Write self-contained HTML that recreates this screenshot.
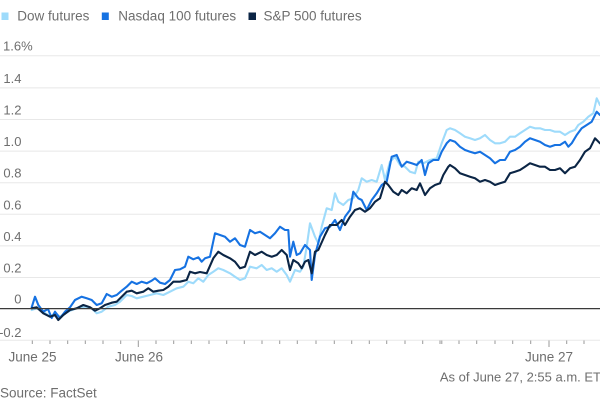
<!DOCTYPE html>
<html>
<head>
<meta charset="utf-8">
<style>
  html,body{margin:0;padding:0;background:#fff;}
  svg{display:block;}
  text{font-family:"Liberation Sans",Arial,sans-serif;fill:#6e6e6e;}
</style>
</head>
<body>
<svg width="600" height="400" viewBox="0 0 600 400" xmlns="http://www.w3.org/2000/svg">
  <!-- legend -->
  <rect x="1.5" y="12.5" width="7" height="7.5" fill="#9edbfb"/>
  <text x="17.3" y="20.5" font-size="13.5">Dow futures</text>
  <rect x="101.8" y="12.5" width="7" height="7.5" fill="#1672e2"/>
  <text x="118.3" y="20.5" font-size="13.5">Nasdaq 100 futures</text>
  <rect x="248.5" y="12.5" width="7.5" height="7.5" fill="#0b2545"/>
  <text x="263.5" y="20.5" font-size="13.5">S&amp;P 500 futures</text>

  <!-- gridlines -->
  <g stroke="#e8e8e8" stroke-width="1">
    <line x1="0" y1="55.7" x2="600" y2="55.7"/>
    <line x1="0" y1="87.9" x2="600" y2="87.9"/>
    <line x1="0" y1="119.5" x2="600" y2="119.5"/>
    <line x1="0" y1="151.1" x2="600" y2="151.1"/>
    <line x1="0" y1="182.7" x2="600" y2="182.7"/>
    <line x1="0" y1="214.3" x2="600" y2="214.3"/>
    <line x1="0" y1="245.9" x2="600" y2="245.9"/>
    <line x1="0" y1="277.5" x2="600" y2="277.5"/>
    <line x1="0" y1="340.2" x2="600" y2="340.2"/>
  </g>

  <!-- y labels -->
  <text x="3" y="50.7" font-size="13">1.6%</text>
  <g font-size="13" text-anchor="end">
    <text x="21.5" y="82.9">1.4</text>
    <text x="21.5" y="114.5">1.2</text>
    <text x="21.5" y="146.1">1.0</text>
    <text x="21.5" y="177.7">0.8</text>
    <text x="21.5" y="209.3">0.6</text>
    <text x="21.5" y="240.9">0.4</text>
    <text x="21.5" y="272.5">0.2</text>
    <text x="21.5" y="303.6">0</text>
    <text x="21.5" y="336.8">-0.2</text>
  </g>

  <!-- x ticks -->
  <g stroke="#9a9a9a" stroke-width="1">
    <line x1="32.3" y1="340.5" x2="32.3" y2="344"/>
    <line x1="50" y1="340.5" x2="50" y2="344"/>
    <line x1="67.7" y1="340.5" x2="67.7" y2="344"/>
    <line x1="85.3" y1="340.5" x2="85.3" y2="344"/>
    <line x1="103" y1="340.5" x2="103" y2="344"/>
    <line x1="120.7" y1="340.5" x2="120.7" y2="344"/>
    <line x1="138.3" y1="340.5" x2="138.3" y2="347"/>
    <line x1="156" y1="340.5" x2="156" y2="344"/>
    <line x1="173.7" y1="340.5" x2="173.7" y2="344"/>
    <line x1="191.3" y1="340.5" x2="191.3" y2="344"/>
    <line x1="209" y1="340.5" x2="209" y2="344"/>
    <line x1="226.7" y1="340.5" x2="226.7" y2="344"/>
    <line x1="244.3" y1="340.5" x2="244.3" y2="344"/>
    <line x1="262" y1="340.5" x2="262" y2="344"/>
    <line x1="279.7" y1="340.5" x2="279.7" y2="344"/>
    <line x1="297.3" y1="340.5" x2="297.3" y2="344"/>
    <line x1="316" y1="340.5" x2="316" y2="344"/>
    <line x1="334.3" y1="340.5" x2="334.3" y2="344"/>
    <line x1="351.7" y1="340.5" x2="351.7" y2="344"/>
    <line x1="369.3" y1="340.5" x2="369.3" y2="344"/>
    <line x1="386.7" y1="340.5" x2="386.7" y2="344"/>
    <line x1="405" y1="340.5" x2="405" y2="344"/>
    <line x1="422.7" y1="340.5" x2="422.7" y2="344"/>
    <line x1="440" y1="340.5" x2="440" y2="344"/>
    <line x1="441.8" y1="340.5" x2="441.8" y2="344"/>
    <line x1="459" y1="340.5" x2="459" y2="344"/>
    <line x1="476.7" y1="340.5" x2="476.7" y2="344"/>
    <line x1="495" y1="340.5" x2="495" y2="344"/>
    <line x1="512.7" y1="340.5" x2="512.7" y2="344"/>
    <line x1="530.7" y1="340.5" x2="530.7" y2="344"/>
    <line x1="549" y1="340.5" x2="549" y2="347"/>
    <line x1="566.7" y1="340.5" x2="566.7" y2="344"/>
    <line x1="584" y1="340.5" x2="584" y2="344"/>
  </g>

  <!-- x labels -->
  <g font-size="13.5" text-anchor="middle">
    <text x="32.5" y="361.5">June 25</text>
    <text x="139" y="361.5">June 26</text>
    <text x="549" y="361.5">June 27</text>
  </g>
  <text x="601" y="381.5" font-size="13" text-anchor="end">As of June 27, 2:55 a.m. ET</text>
  <text x="0" y="397.5" font-size="13.5">Source: FactSet</text>

  <!-- series -->
  <g fill="none" stroke-width="2.1" stroke-linejoin="round" stroke-linecap="round">
    <polyline stroke="#9edbfb" points="31.7,310 36.7,308.3 43.3,311.7 50,316.7 55,313.3 60,316.7 65,313.3 70,310.7 76.7,308.3 85,306.7 91.7,308.3 96.7,313.3 101.7,311.7 108.3,306.7 115,305 120,301.7 126.7,295 131.7,296 136.7,298.3 143.3,296.7 150,295 156.7,293.3 163.3,295 170,291.7 176.7,288.3 183.3,286.7 188.3,281.7 193.3,283.3 198.3,278.3 203.3,281.7 208.3,275 213.3,271.7 218.3,268.3 223.3,270 230,273.3 235,276.7 240,280 245,278.3 250,266.7 256.7,268.3 261.7,265 266.7,270 271.7,268.3 276.7,271.7 281.7,268.3 286.7,275 290,281.7 295,270 300,271.7 303.3,266.7 306.7,246.7 310,223.3 315,236.7 318.3,243.3 321.7,226.7 326.7,208.3 331.7,210 335,193.3 338.3,201.7 343.3,205 348.3,200 353.3,198.3 358.3,190 361.7,178.3 366.7,181.7 371.7,180 376.7,181.7 381.7,165 385,180 390,161.7 395,156.7 400,165 405,166.7 410,171.7 415,173.3 418.3,161.7 423.3,163.3 430,160 436.7,158.3 441.7,143.3 446.7,130 450,128.3 455,130 460,133.3 465,136.7 470,138.3 475,140 480,138.3 485,135 490,140 495,143.3 500,143.3 505,141.7 510,136.7 515,136.7 520,133.3 525,130 530,126.7 535,128.3 540,128.3 545,130 550,130 555,131.7 560,131.7 565,135 570,131.7 575,130 578.3,125 583.3,121.7 588.3,116.7 593.3,113.3 596.7,98.3 600,105"/>
    <polyline stroke="#1672e2" points="31.7,307.3 35,296.7 38.3,305 43.3,311.7 48,309 51.7,318 55,311.7 60,318.3 65,311.7 70,307.3 75,300 81.7,296.7 86.7,298.3 91.7,300 96.7,305 101.7,303.3 106.7,294 111.7,296.7 116.7,295 121.7,290.7 126.7,286.7 131.7,281.7 136.7,284 141.7,281.7 146.7,283.3 151.7,280.7 155,278.3 160,282.7 165,284 170,280 175,270 180,269.3 185,266.7 188.3,256.7 193.3,259.3 198.3,257.3 201.7,261.7 205,258.3 210,256.7 215,233.3 220,235 225,236.7 230,241.7 235,238.3 240,245 245,246.7 250,230 255,233.3 260,231.7 265,235 270,238.3 275,233.3 280,226.7 285,230 288.3,230 290,256.7 293.3,241.7 296.7,255 300,253.3 305,245 310,250 311.7,280 315,255 320,236.7 325,228.3 330,226.7 335,220 340,230 345,216.7 350,210 353.3,191.7 358.3,198.3 361.7,200 366.7,210 371.7,200 376.7,193.3 381.7,185 386.7,181.7 391.7,156.7 396.7,155 401.7,166.7 406.7,161.7 411.7,163.3 416.7,165 421.7,160 425,175 428.3,163.3 433.3,160 438.3,160 441.7,151.7 446.7,143.3 450,140 455,141.7 460,146.7 465,150 470,151.7 475,153.3 480,151.7 485,155 490,158.3 495,163.3 500,160 505,160 510,151.7 515,150 520,146.7 525,141.7 530,138.3 535,140 540,141.7 545,145 550,146.7 555,145 560,145 565,141.7 568.3,146.7 571.7,143.3 576.7,135 581.7,128.3 586.7,125 591.7,121.7 596.7,111.7 600,115"/>
    <polyline stroke="#0b2545" points="31.7,308.3 36.7,307.3 43.3,313.3 50,316.7 55,315 58.3,320 63.3,315 70,310 76.7,308.3 83.3,305 90,307.3 95,310.7 100,308.3 105,305 111.7,302.7 116.7,301.7 121.7,296.7 126.7,291.7 131.7,290.7 136.7,293.3 143.3,291.7 148.3,288.3 153.3,291.7 158.3,290.7 163.3,290 168.3,286.7 173.3,281.7 180,281.7 186.7,280 190,271.7 195,273.3 200,272 206.7,273.3 213.3,258.3 218.3,251.7 223.3,255 230,258.3 235,261.7 240,268.3 245,266.7 250,251.7 255,255 261.7,251.7 266.7,255 271.7,256.7 276.7,255 281.7,250 286.7,255 290,270 293.3,260 298.3,263.3 301.7,268.3 305,261.7 308.3,260 311.7,273.3 315,251.7 318.3,250 325,235 330,225 336.7,225 341.7,220 345,225 350,216.7 355,210 360,208.3 365,211.7 370,208.3 375,201.7 380,198.3 385,181.7 388.3,185 393.3,191.7 398.3,195 401.7,190 406.7,193.3 411.7,188.3 416.7,190 420,183.3 425,195 430,188.3 435,185 440,183.3 443.3,175 448.3,166.7 450,165 455,168.3 460,173.3 465,175 470,176.7 475,178.3 480,181.7 485,180 490,181.7 495,185 500,183.3 505,181.7 510,173.3 515,171.7 520,170 525,166.7 530,163.3 535,165 540,166.7 545,166.7 550,170 555,170 560,168.3 565,173.3 570,168.3 575,166.7 580,160 585,151.7 590,148.3 595,138.3 600,143.3"/>
  </g>

  <!-- zero line -->
  <line x1="0" y1="308.6" x2="600" y2="308.6" stroke="#3a3a3a" stroke-width="1.3"/>
</svg>
</body>
</html>
